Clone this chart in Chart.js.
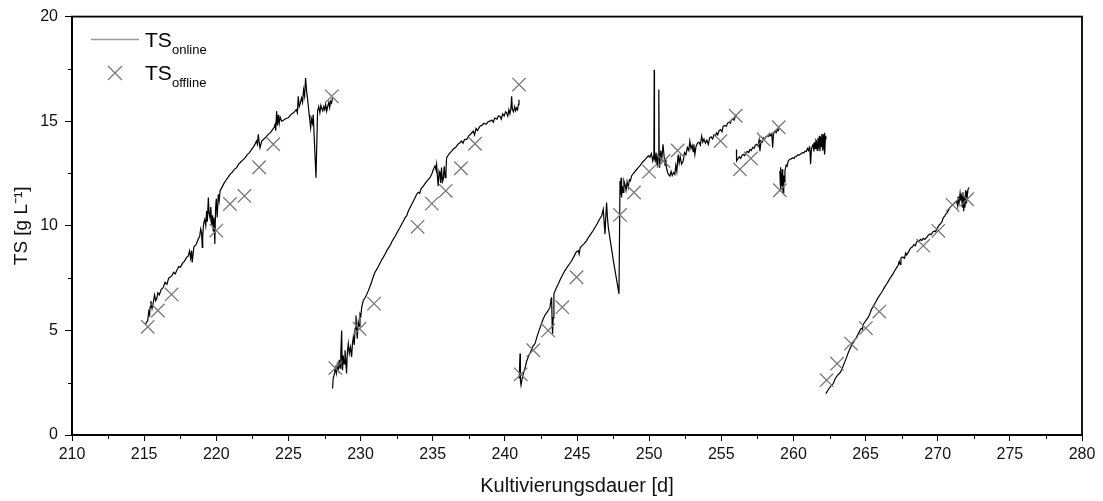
<!DOCTYPE html>
<html>
<head>
<meta charset="utf-8">
<script src="https://cdn.jsdelivr.net/npm/chart.js@4.4.1/dist/chart.umd.min.js"></script>
<style>
    body { margin: 0; background: #fff; }
    #wrap { width: 1103px; height: 501px; position: relative; }
</style>
</head>
<body>
<div id="wrap"><canvas id="tsChart"></canvas></div>
<script>
// offline samples
const offlineDays = [215.25, 215.95, 216.9, 220.0, 220.95, 221.95, 222.97, 223.95, 228.0,
    228.25, 229.93, 230.93, 233.95, 234.94, 235.9, 236.96, 237.93, 240.98,
    241.1, 241.97, 243.0, 243.98, 244.97, 247.98, 248.95, 250.0, 251.0, 251.97, 254.95, 256.0,
    256.29, 257.05, 257.93, 258.98, 259.06,
    262.3, 263.03, 263.99, 265.02, 265.95, 269.0, 270.04, 271.03, 272.04];
const offlineTS = [5.17, 5.95, 6.72, 9.77, 11.04, 11.43, 12.8, 13.9, 16.19,
    3.2, 5.08, 6.28, 9.95, 11.06, 11.67, 12.75, 13.92, 16.75,
    2.9, 4.05, 5.0, 6.11, 7.54, 10.52, 11.59, 12.59, 13.1, 13.6, 14.05, 15.26,
    12.7, 13.22, 14.13, 14.71, 11.7,
    2.62, 3.41, 4.37, 5.11, 5.9, 9.05, 9.76, 11.0, 11.27];

// online sensor, one pair of arrays per run
const seg1Days = [215.10, 215.25, 215.32, 215.38, 215.41, 215.47, 215.55, 215.64, 215.72, 215.80,
    215.87, 215.95, 216.05, 216.18, 216.33, 216.45, 216.58, 216.70, 216.79, 216.92,
    217.05, 217.15, 217.26, 217.40, 217.52, 217.65, 217.78, 217.95, 218.05, 218.15,
    218.22, 218.29, 218.33, 218.45, 218.60, 218.75, 218.85, 218.92, 218.98, 219.03,
    219.06, 219.12, 219.20, 219.27, 219.33, 219.38, 219.45, 219.50, 219.56, 219.62,
    219.68, 219.74, 219.79, 219.84, 219.90, 219.95, 220.00, 220.06, 220.14, 220.20,
    220.26, 220.40, 220.55, 220.70, 220.85, 220.95, 221.10, 221.25, 221.41, 221.55,
    221.70, 221.85, 221.99, 222.15, 222.30, 222.45, 222.60, 222.68, 222.78, 222.85,
    222.91, 222.97, 223.03, 223.15, 223.30, 223.45, 223.60, 223.75, 223.90, 224.00,
    224.07, 224.12, 224.18, 224.24, 224.30, 224.36, 224.42, 224.53, 224.65, 224.80,
    224.99, 225.10, 225.22, 225.35, 225.45, 225.55, 225.62, 225.68, 225.75, 225.82,
    225.91, 225.98, 226.05, 226.12, 226.19, 226.26, 226.32, 226.38, 226.44, 226.49,
    226.54, 226.60, 226.66, 226.72, 226.91, 227.02, 227.10, 227.18, 227.25, 227.30,
    227.38, 227.45, 227.52, 227.58, 227.65, 227.72, 227.80, 227.86, 227.92, 227.99, 228.05];
const seg1TS = [5.30, 5.48, 5.90, 5.75, 6.11, 6.40, 6.05, 6.35, 6.70, 6.42,
    6.51, 6.80, 6.70, 6.95, 7.06, 7.30, 7.20, 7.50, 7.54, 7.62,
    7.78, 7.70, 7.86, 8.05, 8.02, 8.20, 8.30, 8.49, 8.55, 8.80,
    8.45, 8.81, 8.25, 9.00, 9.10, 9.37, 9.50, 9.85, 9.68, 8.97,
    9.50, 10.10, 10.30, 10.00, 10.71, 10.20, 11.35, 10.60, 10.40, 10.90,
    10.05, 10.50, 9.76, 10.40, 9.13, 10.80, 11.30, 10.40, 11.51, 11.20,
    11.67, 11.85, 12.05, 12.20, 12.35, 12.46, 12.55, 12.70, 12.78, 12.95,
    13.05, 13.15, 13.25, 13.40, 13.50, 13.65, 13.80, 13.89, 14.05, 13.90,
    14.37, 14.00, 13.73, 14.05, 14.15, 14.25, 14.37, 14.45, 14.60, 14.70,
    14.84, 14.55, 15.48, 14.80, 15.30, 14.90, 15.20, 15.00, 15.05, 15.12,
    15.16, 15.25, 15.35, 15.40, 15.48, 15.55, 15.40, 16.19, 15.70, 15.85,
    16.11, 15.90, 16.50, 16.20, 17.06, 16.43, 16.10, 15.70, 15.30, 15.00,
    14.68, 15.10, 14.90, 15.32, 12.30, 15.48, 15.70, 15.40, 15.75, 15.63,
    15.50, 15.70, 15.55, 15.80, 15.48, 15.70, 15.90, 15.65, 15.95, 15.87, 16.10];

const seg2Days = [228.06, 228.10, 228.18, 228.25, 228.32, 228.38, 228.45, 228.52, 228.58, 228.63,
    228.69, 228.72, 228.75, 228.80, 228.86, 228.92, 228.97, 229.03, 229.08, 229.15,
    229.22, 229.30, 229.38, 229.44, 229.50, 229.56, 229.62, 229.68, 229.72, 229.77,
    229.84, 229.90, 229.96, 230.02, 230.08, 230.19, 230.30, 230.42, 230.54, 230.65,
    230.78, 230.90, 231.00, 231.15, 231.30, 231.45, 231.57, 231.70, 231.85, 232.04,
    232.20, 232.40, 232.55, 232.73, 232.90, 233.10, 233.20, 233.31, 233.45, 233.60,
    233.75, 233.89, 234.00, 234.10, 234.20, 234.35, 234.50, 234.65, 234.81, 234.95,
    235.05, 235.16, 235.22, 235.27, 235.32, 235.38, 235.44, 235.50, 235.55, 235.61,
    235.67, 235.73, 235.80, 235.86, 235.92, 235.96, 236.05, 236.15, 236.31, 236.45,
    236.60, 236.75, 236.89, 237.00, 237.10, 237.20, 237.35, 237.50, 237.65, 237.81,
    237.90, 238.00, 238.10, 238.27, 238.40, 238.55, 238.70, 238.85, 238.97, 239.10,
    239.20, 239.30, 239.45, 239.55, 239.66, 239.75, 239.85, 239.95, 240.05, 240.12,
    240.20, 240.28, 240.35, 240.42, 240.47, 240.52, 240.60, 240.68, 240.75, 240.81,
    240.88, 240.94, 240.98];
const seg2TS = [2.22, 2.70, 2.90, 3.20, 2.95, 3.35, 3.10, 3.60, 3.20, 3.90,
    5.00, 3.50, 3.10, 3.80, 3.40, 4.05, 3.60, 2.94, 3.90, 4.37,
    3.90, 4.20, 3.73, 4.40, 4.68, 4.30, 5.10, 5.71, 5.10, 4.60,
    5.40, 5.20, 5.79, 5.70, 6.11, 6.43, 6.55, 6.70, 6.90, 7.10,
    7.35, 7.60, 7.78, 7.95, 8.15, 8.35, 8.49, 8.65, 8.85, 9.05,
    9.28, 9.50, 9.70, 9.92, 10.15, 10.40, 10.48, 10.71, 10.90, 11.10,
    11.30, 11.51, 11.60, 11.55, 11.78, 11.90, 12.05, 12.18, 12.30, 12.50,
    12.70, 12.86, 12.70, 12.94, 12.40, 11.90, 12.60, 12.46, 12.05, 12.78,
    12.10, 12.22, 12.85, 12.30, 12.62, 13.25, 13.35, 13.45, 13.57, 13.68,
    13.75, 13.90, 13.97, 14.05, 13.95, 14.12, 14.13, 14.30, 14.40, 14.52,
    14.35, 14.65, 14.55, 14.76, 14.80, 14.90, 14.85, 14.98, 15.00, 15.05,
    14.95, 15.15, 15.10, 15.25, 15.24, 15.10, 15.35, 15.25, 15.45, 15.40,
    15.25, 15.55, 15.35, 15.60, 16.19, 15.56, 15.45, 15.70, 15.50, 15.63,
    15.55, 15.80, 16.03];

const seg3Days = [241.00, 241.05, 241.08, 241.12, 241.20, 241.28, 241.40, 241.50, 241.62, 241.80,
    241.95, 242.09, 242.25, 242.40, 242.55, 242.66, 242.80, 242.95, 243.05, 243.13,
    243.20, 243.24, 243.28, 243.31, 243.35, 243.40, 243.55, 243.70, 243.85, 244.00,
    244.16, 244.30, 244.45, 244.63, 244.80, 244.95, 245.09, 245.15, 245.22, 245.35,
    245.50, 245.67, 245.80, 245.95, 246.10, 246.24, 246.40, 246.55, 246.71, 246.82,
    246.88, 246.94, 247.00, 247.05, 247.11, 247.17, 247.35, 247.55, 247.75, 247.91,
    247.98, 248.02, 248.05, 248.09, 248.14, 248.20, 248.25, 248.32, 248.40, 248.47,
    248.55, 248.63, 248.70, 248.78, 248.90, 249.05, 249.24, 249.40, 249.55, 249.70,
    249.82, 249.95, 250.05, 250.15, 250.25, 250.33, 250.35, 250.37, 250.42, 250.48,
    250.55, 250.60, 250.63, 250.67, 250.70, 250.73, 250.80, 250.88, 250.96, 251.04,
    251.10, 251.15, 251.20, 251.28, 251.35, 251.44, 251.52, 251.60, 251.70, 251.78,
    251.85, 251.92, 252.01, 252.08, 252.15, 252.25, 252.36, 252.45, 252.55, 252.65,
    252.75, 252.82, 252.90, 252.98, 253.05, 253.10, 253.17, 253.25, 253.35, 253.45,
    253.55, 253.64, 253.72, 253.80, 253.90, 254.00, 254.10, 254.20, 254.30, 254.40,
    254.50, 254.60, 254.67, 254.75, 254.85, 254.95, 255.05, 255.13, 255.25, 255.35,
    255.45, 255.55, 255.63, 255.71, 255.80, 255.88, 255.96, 256.05];
const seg3TS = [2.70, 3.89, 2.60, 2.38, 2.70, 2.94, 3.20, 3.50, 3.73, 4.00,
    4.25, 4.37, 4.75, 5.05, 5.35, 5.56, 5.75, 5.90, 6.00, 6.11,
    6.50, 6.59, 5.20, 4.84, 5.60, 6.75, 7.00, 7.22, 7.45, 7.65,
    7.86, 8.00, 8.15, 8.33, 8.55, 8.75, 8.81, 8.65, 8.95, 9.05,
    9.15, 9.29, 9.45, 9.60, 9.75, 9.92, 10.10, 10.30, 10.48, 10.79,
    10.20, 9.60, 10.50, 11.11, 10.40, 9.92, 9.10, 8.20, 7.40, 6.75,
    12.14, 11.50, 12.30, 11.35, 11.90, 11.60, 12.15, 11.98, 11.70, 12.10,
    11.83, 12.20, 12.15, 12.38, 12.50, 12.62, 12.78, 12.90, 13.05, 13.15,
    13.25, 13.35, 13.28, 13.45, 13.10, 13.41, 17.46, 13.20, 13.10, 13.50,
    12.90, 13.30, 13.41, 16.51, 13.20, 12.78, 13.60, 13.20, 13.89, 13.30,
    12.90, 13.20, 12.78, 12.55, 12.45, 12.38, 12.60, 12.40, 12.55, 12.46,
    12.90, 12.60, 13.41, 13.00, 13.30, 12.95, 13.10, 13.50, 13.40, 13.75,
    13.60, 14.05, 13.70, 13.85, 13.55, 13.90, 13.41, 13.80, 13.95, 14.00,
    13.85, 14.29, 14.00, 14.15, 13.95, 14.10, 13.89, 14.20, 14.25, 14.15,
    14.35, 14.30, 14.44, 14.35, 14.55, 14.60, 14.50, 14.76, 14.80, 14.75,
    14.92, 14.95, 14.90, 15.08, 15.10, 15.05, 15.20, 15.32];

const seg4Days = [256.05, 256.06, 256.15, 256.25, 256.35, 256.45, 256.52, 256.62, 256.70, 256.80,
    256.90, 256.99, 257.08, 257.18, 257.28, 257.36, 257.45, 257.55, 257.62, 257.68,
    257.75, 257.84, 257.91, 258.00, 258.10, 258.20, 258.30, 258.38, 258.45, 258.50,
    258.56, 258.62, 258.72, 258.80, 258.88, 258.95, 259.02];
const seg4TS = [13.65, 13.10, 13.20, 13.30, 13.22, 13.38, 13.41, 13.35, 13.50, 13.55,
    13.50, 13.65, 13.60, 13.75, 13.70, 13.85, 13.89, 13.80, 14.10, 13.57,
    14.05, 14.00, 14.21, 14.15, 14.25, 14.30, 14.28, 14.37, 14.30, 14.45,
    13.73, 14.40, 14.52, 14.45, 14.60, 14.55, 14.68];

const seg5Days = [259.06, 259.08, 259.10, 259.13, 259.16, 259.19, 259.22, 259.26, 259.29, 259.33,
    259.37, 259.41, 259.50, 259.56, 259.64, 259.75, 259.85, 259.95, 260.05, 260.12,
    260.22, 260.32, 260.42, 260.52, 260.62, 260.72, 260.80, 260.90, 260.97, 261.05,
    261.10, 261.14, 261.19, 261.24, 261.30, 261.37, 261.42, 261.47, 261.52, 261.56,
    261.60, 261.65, 261.70, 261.75, 261.80, 261.84, 261.88, 261.92, 261.97, 262.02,
    262.07, 262.12, 262.15, 262.18, 262.22, 262.25];
const seg5TS = [12.62, 12.20, 12.80, 11.67, 12.50, 11.90, 12.70, 11.80, 11.59, 12.40,
    12.10, 12.62, 12.90, 12.85, 13.10, 13.18, 13.20, 13.25, 13.22, 13.30,
    13.33, 13.40, 13.38, 13.45, 13.50, 13.48, 13.57, 13.55, 13.70, 13.60,
    13.75, 13.65, 12.94, 13.60, 13.80, 13.89, 13.55, 14.00, 13.70, 14.10,
    14.05, 13.60, 14.20, 13.70, 14.30, 13.57, 14.25, 13.80, 14.40, 13.60,
    14.37, 13.70, 14.45, 13.41, 14.30, 14.13];

const seg6Days = [262.25, 262.40, 262.55, 262.76, 262.90, 263.05, 263.20, 263.34, 263.50, 263.65,
    263.78, 263.92, 264.05, 264.20, 264.35, 264.48, 264.61, 264.70, 264.78, 264.85,
    264.95, 265.05, 265.19, 265.30, 265.40, 265.50, 265.62, 265.76, 265.90, 266.05,
    266.20, 266.33, 266.46, 266.60, 266.75, 266.90, 267.03, 267.15, 267.25, 267.33,
    267.40, 267.45, 267.50, 267.60, 267.70, 267.78, 267.85, 267.96, 268.05, 268.15,
    268.25, 268.35, 268.45, 268.53, 268.62, 268.70, 268.80, 268.90, 269.00, 269.10,
    269.23, 269.35, 269.45, 269.55, 269.65, 269.75, 269.85, 269.93, 270.02, 270.12,
    270.20, 270.30, 270.39, 270.48, 270.55, 270.65, 270.75, 270.85, 270.95, 271.05,
    271.15, 271.25, 271.31, 271.38, 271.42, 271.48, 271.55, 271.60, 271.66, 271.70,
    271.75, 271.80, 271.85, 271.89, 271.93, 271.97, 272.00, 272.05, 272.10, 272.18];
const seg6TS = [1.98, 2.15, 2.30, 2.46, 2.70, 2.85, 2.95, 3.10, 3.40, 3.65,
    3.90, 4.13, 4.30, 4.50, 4.65, 4.82, 5.00, 5.10, 5.05, 5.30,
    5.40, 5.50, 5.63, 5.80, 6.00, 6.10, 6.25, 6.43, 6.60, 6.75,
    6.92, 7.08, 7.22, 7.38, 7.55, 7.70, 7.86, 8.00, 8.10, 8.30,
    8.15, 8.45, 8.49, 8.50, 8.45, 8.70, 8.60, 8.73, 8.85, 8.95,
    9.00, 9.10, 9.05, 9.21, 9.30, 9.25, 9.35, 9.30, 9.40, 9.35,
    9.44, 9.55, 9.60, 9.58, 9.70, 9.75, 9.72, 9.84, 9.95, 10.05,
    10.10, 10.20, 10.40, 10.45, 10.55, 10.62, 10.75, 10.87, 10.95, 11.00,
    11.08, 11.15, 11.19, 10.95, 11.40, 11.10, 11.55, 11.20, 11.51, 10.90,
    11.60, 10.70, 11.40, 10.87, 11.70, 11.10, 11.67, 11.40, 11.75, 11.83];

const xTicks = [210, 215, 220, 225, 230, 235, 240, 245, 250, 255, 260, 265, 270, 275, 280];
const yTicks = [0, 5, 10, 15, 20];

const FONT = "'Liberation Sans', Arial, sans-serif";

const segments = [
    [seg1Days, seg1TS], [seg2Days, seg2TS], [seg3Days, seg3TS],
    [seg4Days, seg4TS], [seg5Days, seg5TS], [seg6Days, seg6TS]
];

const datasets = [{
    label: 'TS offline',
    data: offlineDays.map((d, i) => ({ x: d, y: offlineTS[i] })),
    showLine: false,
    pointStyle: 'crossRot',
    pointRadius: 9.5,
    pointBorderWidth: 1.3,
    borderColor: '#777',
    backgroundColor: '#777'
}];
segments.forEach(([days, ts], n) => {
    datasets.push({
        label: 'TS online ' + (n + 1),
        data: days.map((d, i) => ({ x: d, y: ts[i] })),
        showLine: true,
        pointRadius: 0,
        borderColor: '#000',
        borderWidth: 1.2,
        tension: 0
    });
});

// frame, minor ticks and the legend
const extras = {
    id: 'extras',
    afterDraw(chart) {
        const { ctx, chartArea: a, scales: { x, y } } = chart;
        ctx.save();
        ctx.strokeStyle = '#000';
        ctx.lineWidth = 1.8;
        ctx.strokeRect(a.left, a.top, a.right - a.left, a.bottom - a.top);

        ctx.lineWidth = 1;
        ctx.beginPath();
        for (let v = 212.5; v < 280; v += 5) {
            const px = Math.round(x.getPixelForValue(v)) + 0.5;
            ctx.moveTo(px, a.bottom);
            ctx.lineTo(px, a.bottom + 4);
        }
        for (let v = 2.5; v < 20; v += 5) {
            const py = Math.round(y.getPixelForValue(v)) + 0.5;
            ctx.moveTo(a.left, py);
            ctx.lineTo(a.left - 4, py);
        }
        ctx.stroke();

        // legend
        ctx.strokeStyle = '#999';
        ctx.lineWidth = 1.5;
        ctx.beginPath();
        ctx.moveTo(91, 39.5);
        ctx.lineTo(139, 39.5);
        ctx.stroke();

        ctx.strokeStyle = '#777';
        ctx.lineWidth = 1.3;
        ctx.beginPath();
        ctx.moveTo(108, 66); ctx.lineTo(122, 80);
        ctx.moveTo(122, 66); ctx.lineTo(108, 80);
        ctx.stroke();

        ctx.fillStyle = '#000';
        ctx.textBaseline = 'alphabetic';
        ctx.font = '21px ' + FONT;
        ctx.fillText('TS', 145, 47);
        ctx.fillText('TS', 145, 80);
        ctx.font = '13px ' + FONT;
        ctx.fillText('online', 172, 53.5);
        ctx.fillText('offline', 172, 87);
        ctx.restore();
    }
};

new Chart(document.getElementById('tsChart'), {
    type: 'scatter',
    data: { datasets },
    options: {
        responsive: true,
        maintainAspectRatio: false,
        animation: false,
        layout: { padding: { top: 15, right: 21, left: 0, bottom: 0 } },
        plugins: { legend: { display: false }, tooltip: { enabled: false } },
        scales: {
            x: {
                type: 'linear',
                min: 210,
                max: 280,
                afterFit: s => { s.height = 66; },
                afterBuildTicks: s => { s.ticks = xTicks.map(v => ({ value: v })); },
                ticks: { font: { family: FONT, size: 16 }, color: '#111', padding: 4 },
                grid: { drawOnChartArea: false, drawTicks: true, tickLength: 6, color: '#000', lineWidth: 1 },
                border: { display: true, color: '#000', width: 1.8 },
                title: {
                    display: true,
                    text: 'Kultivierungsdauer [d]',
                    color: '#111',
                    font: { family: FONT, size: 20 },
                    padding: { top: 0, bottom: 3 }
                }
            },
            y: {
                min: 0,
                max: 20,
                afterFit: s => { s.width = 72; },
                afterBuildTicks: s => { s.ticks = yTicks.map(v => ({ value: v })); },
                ticks: { font: { family: FONT, size: 16 }, color: '#111', padding: 7 },
                grid: { drawOnChartArea: false, drawTicks: true, tickLength: 7, color: '#000', lineWidth: 1 },
                border: { display: true, color: '#000', width: 1.8 },
                title: {
                    display: true,
                    text: 'TS [g L⁻¹]',
                    color: '#111',
                    font: { family: FONT, size: 19 },
                    padding: { top: 10, bottom: 0 }
                }
            }
        }
    },
    plugins: [extras]
});
</script>
</body>
</html>
